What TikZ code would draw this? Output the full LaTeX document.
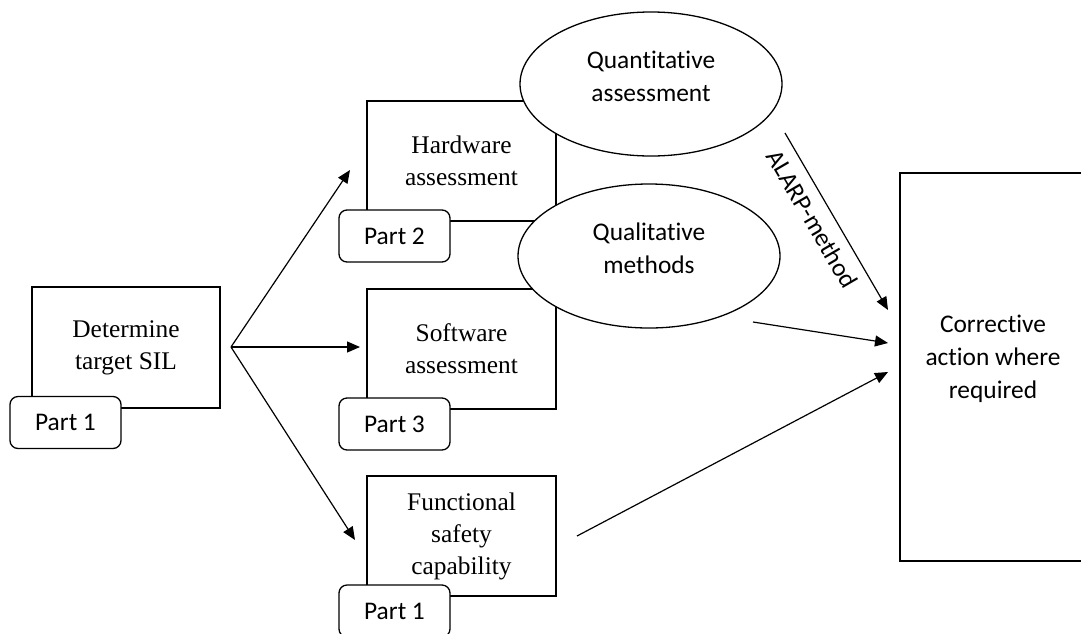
\documentclass[tikz,border=0pt]{standalone}
\usepackage{fontspec}
\setmainfont{Liberation Serif}
\newfontfamily\calibrifont[Ligatures=CommonOff]{Carlito}
\usetikzlibrary{arrows.meta,shapes.geometric}
\tikzset{
  stagebox/.style={draw,line width=.65pt,fill=white,align=center,inner sep=0pt,minimum width=94.5pt,minimum height=60pt,font=\fontsize{12.7}{16}\selectfont},
  partbox/.style={draw,line width=.65pt,fill=white,rounded corners=4pt,inner sep=0pt,minimum width=55.5pt,minimum height=26pt,font=\calibrifont\fontsize{12.7}{16}\selectfont},
  methodoval/.style={ellipse,draw,line width=.65pt,fill=white,inner sep=0pt,minimum width=131pt,minimum height=72pt},
  actionbox/.style={draw,line width=.65pt,fill=white,inner sep=0pt,minimum width=93pt,minimum height=194pt},
  sanstext/.style={align=center,font=\calibrifont\fontsize{12.7}{16.5}\selectfont},
  flowarr/.style={-{Triangle[length=6.5pt,width=5.5pt]},line width=.6pt}
}
\begin{document}
\begin{tikzpicture}[x=.5pt,y=-.5pt]
  \clip (0,0) rectangle (1081,633);
  \node[stagebox,minimum width=94pt,minimum height=60.5pt] (det) at (126,347.5) {Determine\\target SIL};
  \node[partbox] (detpart) at (65.5,422.5) {Part 1};

  \node[stagebox] (hw) at (461.5,161) {Hardware\\assessment};
  \node[partbox] (hwpart) at (394.5,236) {Part 2};
  \node[stagebox] (sw) at (461.5,349) {Software\\assessment};
  \node[partbox] (swpart) at (394.5,424) {Part 3};
  \node[stagebox] (fs) at (461.5,536) {Functional\\safety\\capability};
  \node[partbox] (fspart) at (394.5,611) {Part 1};

  \node[methodoval,label={[sanstext,yshift=4pt]center:Quantitative\\assessment}] (quant) at (651,84) {};
  \node[methodoval,label={[sanstext,yshift=4pt]center:Qualitative\\methods}] (qual) at (649,256) {};
  \node[actionbox,label={[sanstext,yshift=4pt]center:Corrective\\action where\\required}] (corr) at (993,367) {};

  \coordinate (fork) at (231,347);
  \coordinate (hwin) at (350,170);
  \coordinate (swin) at (360,347);
  \coordinate (fsin) at (355,540);
  \coordinate (alarpfrom) at (785,133);
  \coordinate (alarpto) at (888,310);
  \coordinate (qualfrom) at (753,322);
  \coordinate (qualto) at (888,343);
  \coordinate (fsfrom) at (577,536);
  \coordinate (fsto) at (888,372);

  \draw[flowarr] (fork) -- (hwin);
  \draw[flowarr] (fork) -- (swin);
  \draw[flowarr] (fork) -- (fsin);
  \draw[flowarr] (alarpfrom) -- node[sanstext,sloped,below,inner sep=2pt,yshift=-3pt,pos=.43] {ALARP-method} (alarpto);
  \draw[flowarr] (qualfrom) -- (qualto);
  \draw[flowarr] (fsfrom) -- (fsto);
\end{tikzpicture}
\end{document}
